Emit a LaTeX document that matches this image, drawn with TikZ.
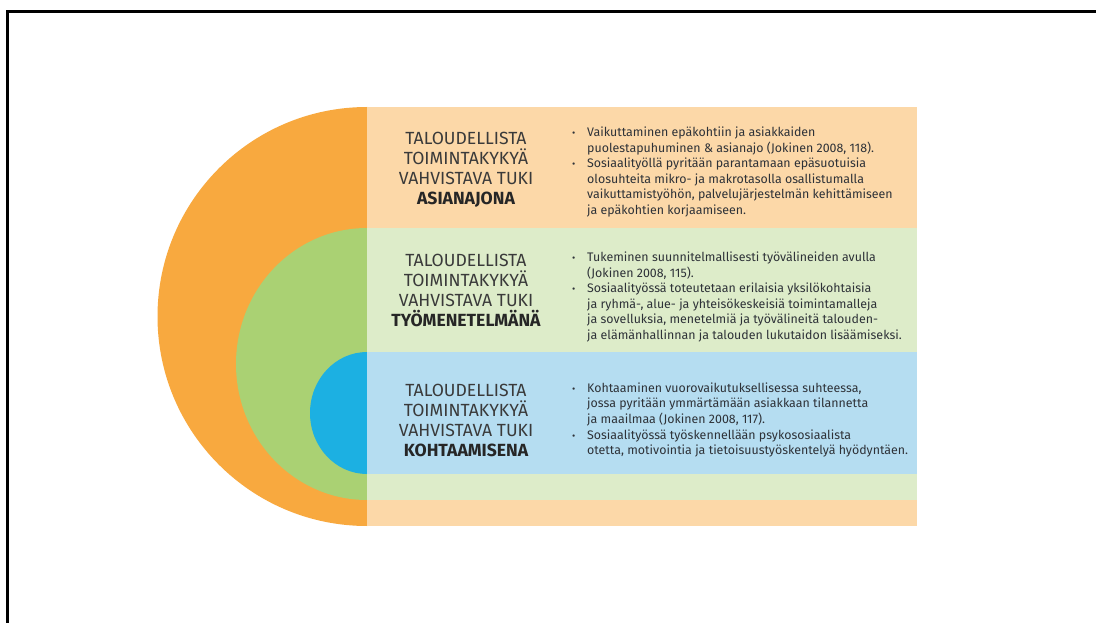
\documentclass[tikz,border=0pt]{standalone}
\usepackage{fontspec}
\setmainfont{Fira Sans}
\definecolor{orangeDisc}{HTML}{F8A93F}
\definecolor{orangeBand}{HTML}{FCD8A8}
\definecolor{greenDisc}{HTML}{AAD173}
\definecolor{greenBand}{HTML}{DDECC9}
\definecolor{blueDisc}{HTML}{1CB0E2}
\definecolor{blueBand}{HTML}{B5DDF1}
\definecolor{titleText}{HTML}{3A3A3A}
\definecolor{bodyText}{HTML}{2E3238}
\newcommand{\bitem}{\makebox[15pt][l]{{\fontsize{10}{10}\selectfont\textbullet}}}
\newcommand{\bcont}{\hspace*{15pt}}
\begin{document}
\begin{tikzpicture}[x=1pt,y=-1pt,
  titlebox/.style={align=center,text=titleText,font=\fontsize{17.6}{20}\selectfont,inner sep=0pt},
  bulletbox/.style={align=left,text=bodyText,font=\fontsize{12.4}{15.6}\selectfont,inner sep=0pt,anchor=west}]
\useasboundingbox (0,0) rectangle (1096,623);
\clip (0,0) rectangle (1096,623);
\fill[white] (0,0) rectangle (1096,623);
\draw[line width=3pt] (7.5,11.5) rectangle (1120,650);

% nested discs, right halves covered by the bands
\fill[orangeDisc] (367,316.5) circle[radius=209.5];
\fill[greenDisc] (367,364) ellipse[x radius=131,y radius=136];
\fill[blueDisc] (367,413) ellipse[x radius=57,y radius=61];

% horizontal bands
\fill[orangeBand] (367,107) rectangle (917,526);
\fill[greenBand] (367,228) rectangle (917,500);
\fill[blueBand] (367,352) rectangle (917,474);

% titles
\node[titlebox] (t1) at (466,170) {TALOUDELLISTA\\TOIMINTAKYKYÄ\\VAHVISTAVA TUKI\\\textbf{\color{black!85}ASIANAJONA}};
\node[titlebox] (t2) at (466,290) {TALOUDELLISTA\\TOIMINTAKYKYÄ\\VAHVISTAVA TUKI\\\textbf{\color{black!85}TYÖMENETELMÄNÄ}};
\node[titlebox] (t3) at (466,420) {TALOUDELLISTA\\TOIMINTAKYKYÄ\\VAHVISTAVA TUKI\\\textbf{\color{black!85}KOHTAAMISENA}};

% descriptions
\node[bulletbox] (b1) at (572,172) {\bitem Vaikuttaminen epäkohtiin ja asiakkaiden\\
\bcont puolestapuhuminen \& asianajo (Jokinen 2008, 118).\\
\bitem Sosiaalityöllä pyritään parantamaan epäsuotuisia\\
\bcont olosuhteita mikro- ja makrotasolla osallistumalla\\
\bcont vaikuttamistyöhön, palvelujärjestelmän kehittämiseen\\
\bcont ja epäkohtien korjaamiseen.};
\node[bulletbox] (b2) at (572,297) {\bitem Tukeminen suunnitelmallisesti työvälineiden avulla\\
\bcont (Jokinen 2008, 115).\\
\bitem Sosiaalityössä toteutetaan erilaisia yksilökohtaisia\\
\bcont ja ryhmä-, alue- ja yhteisökeskeisiä toimintamalleja\\
\bcont ja sovelluksia, menetelmiä ja työvälineitä talouden-\\
\bcont ja elämänhallinnan ja talouden lukutaidon lisäämiseksi.};
\node[bulletbox] (b3) at (572,420) {\bitem Kohtaaminen vuorovaikutuksellisessa suhteessa,\\
\bcont jossa pyritään ymmärtämään asiakkaan tilannetta\\
\bcont ja maailmaa (Jokinen 2008, 117).\\
\bitem Sosiaalityössä työskennellään psykososiaalista\\
\bcont otetta, motivointia ja tietoisuustyöskentelyä hyödyntäen.};
\end{tikzpicture}
\end{document}
